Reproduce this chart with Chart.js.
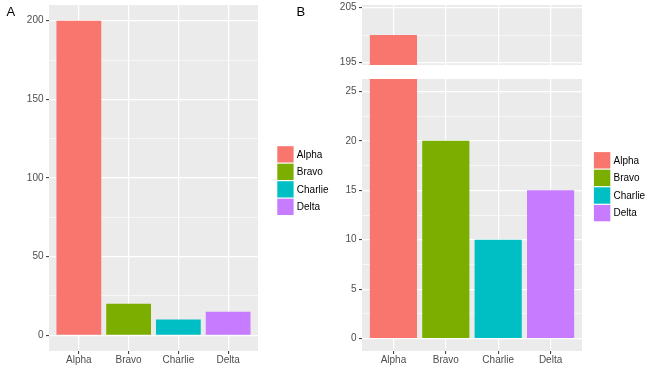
<!DOCTYPE html>
<html>
<head>
<meta charset="utf-8">
<title>Alpha / Bravo / Charlie / Delta</title>
<script src="https://cdn.jsdelivr.net/npm/chart.js@4.4.1/dist/chart.umd.min.js"></script>
<style>
    html, body { margin: 0; padding: 0; background: #fff; }
    #wrap { position: relative; width: 650px; height: 369px; overflow: hidden; font-family: "Liberation Sans", Arial, sans-serif; }
    #wrap canvas { position: absolute; left: 0; top: 0; }
    .tag { position: absolute; font-size: 13px; line-height: 1; color: #000; }
</style>
</head>
<body>
<div id="wrap">
    <canvas id="chartA" width="650" height="369"></canvas>
    <canvas id="chartBTop" width="650" height="369"></canvas>
    <canvas id="chartBBottom" width="650" height="369"></canvas>
    <div class="tag" style="left:6.5px;top:4.8px">A</div>
    <div class="tag" style="left:296.5px;top:4.8px">B</div>
</div>
<script>
'use strict';

// data
var categories = ['Alpha', 'Bravo', 'Charlie', 'Delta'];
var values = [200, 20, 10, 15];
var colors = ['#F8766D', '#7CAE00', '#00BFC4', '#C77CFF'];

// tick labels (major breaks)
var ticksA = [0, 50, 100, 150, 200];
var ticksBTop = [195, 205];
var ticksBBottom = [0, 5, 10, 15, 20, 25];

Chart.defaults.font.family = '"Liberation Sans", Arial, sans-serif';
Chart.defaults.font.size = 10;

// grey panel behind the grid
var panelBg = {
    id: 'panelBg',
    beforeDraw: function (chart) {
        var a = chart.chartArea;
        var ctx = chart.ctx;
        ctx.save();
        ctx.fillStyle = '#EBEBEB';
        ctx.fillRect(a.left, a.top, a.right - a.left, a.bottom - a.top);
        ctx.restore();
    }
};

// ggplot style fill legend, one key per bar colour
var keyLegend = {
    id: 'keyLegend',
    afterDraw: function (chart, args, opts) {
        if (!opts || opts.x === undefined) return;
        var ctx = chart.ctx;
        ctx.save();
        ctx.font = '10px "Liberation Sans", Arial, sans-serif';
        ctx.textBaseline = 'middle';
        ctx.textAlign = 'left';
        categories.forEach(function (name, i) {
            var top = opts.y + i * opts.size;
            ctx.fillStyle = colors[i];
            ctx.fillRect(opts.x + 0.6, top + 0.6, opts.size - 1.2, opts.size - 1.2);
            ctx.fillStyle = '#000';
            ctx.fillText(name, opts.x + opts.size + 2.6, top + opts.size / 2 + 0.5);
        });
        ctx.restore();
    }
};

function makeChart(id, cfg) {
    var majors = cfg.ticks;
    var minors = [];
    for (var i = 1; i < majors.length; i++) {
        minors.push((majors[i - 1] + majors[i]) / 2);
    }
    var isMajor = function (v) { return majors.indexOf(v) !== -1; };
    var allTicks = majors.concat(minors).sort(function (a, b) { return a - b; });

    return new Chart(document.getElementById(id), {
        type: 'bar',
        data: {
            datasets: [{
                data: categories.map(function (c, i) { return { x: i, y: values[i] }; }),
                backgroundColor: colors,
                borderWidth: 0,
                barPercentage: 0.9,
                categoryPercentage: 1,
                clip: 0
            }]
        },
        options: {
            responsive: false,
            animation: false,
            events: [],
            layout: { padding: cfg.pad },
            plugins: {
                legend: { display: false },
                tooltip: { enabled: false },
                keyLegend: cfg.legend || {}
            },
            scales: {
                x: {
                    type: 'linear',
                    min: -0.6,
                    max: 3.6,
                    offset: false,
                    afterBuildTicks: function (s) {
                        s.ticks = categories.map(function (c, i) { return { value: i }; });
                    },
                    ticks: {
                        display: cfg.xLabels,
                        autoSkip: false,
                        maxRotation: 0,
                        padding: 0,
                        color: '#4D4D4D',
                        callback: function (v) { return categories[v]; }
                    },
                    grid: {
                        offset: false,
                        color: '#FFFFFF',
                        lineWidth: 1.2,
                        drawTicks: cfg.xLabels,
                        tickLength: 3,
                        tickColor: '#333333',
                        tickWidth: 1
                    },
                    border: { display: false },
                    afterFit: function (s) {
                        s.height = cfg.xHeight;
                        s.paddingLeft = 0;
                        s.paddingRight = 0;
                    }
                },
                y: {
                    min: cfg.min,
                    max: cfg.max,
                    afterBuildTicks: function (s) {
                        s.ticks = allTicks.map(function (v) { return { value: v }; });
                    },
                    ticks: {
                        autoSkip: false,
                        padding: 2.5,
                        color: '#4D4D4D',
                        callback: function (v) { return isMajor(v) ? String(v) : ''; }
                    },
                    grid: {
                        color: '#FFFFFF',
                        lineWidth: function (c) { return isMajor(c.tick.value) ? 1.2 : 0.6; },
                        tickLength: 3,
                        tickColor: function (c) { return isMajor(c.tick.value) ? '#333333' : 'rgba(0,0,0,0)'; },
                        tickWidth: 1
                    },
                    border: { display: false },
                    afterFit: function (s) {
                        s.width = cfg.yWidth;
                        s.paddingTop = 0;
                        s.paddingBottom = 0;
                    }
                }
            }
        },
        plugins: [panelBg, keyLegend]
    });
}

// A: full axis
makeChart('chartA', {
    ticks: ticksA, min: -10, max: 210,
    pad: { left: 0, top: 5, right: 392, bottom: 0 },
    yWidth: 49, xHeight: 18, xLabels: true,
    legend: { x: 276.7, y: 145.6, size: 17.5 }
});

// B: broken axis, upper part
makeChart('chartBTop', {
    ticks: ticksBTop, min: 194.5, max: 205.5,
    pad: { left: 330, top: 5, right: 68, bottom: 304 },
    yWidth: 32, xHeight: 0, xLabels: false
});

// B: broken axis, lower part
makeChart('chartBBottom', {
    ticks: ticksBBottom, min: -1.25, max: 26.25,
    pad: { left: 330, top: 79, right: 68, bottom: 0 },
    yWidth: 32, xHeight: 18, xLabels: true,
    legend: { x: 593.3, y: 151.5, size: 17.6 }
});
</script>
</body>
</html>
